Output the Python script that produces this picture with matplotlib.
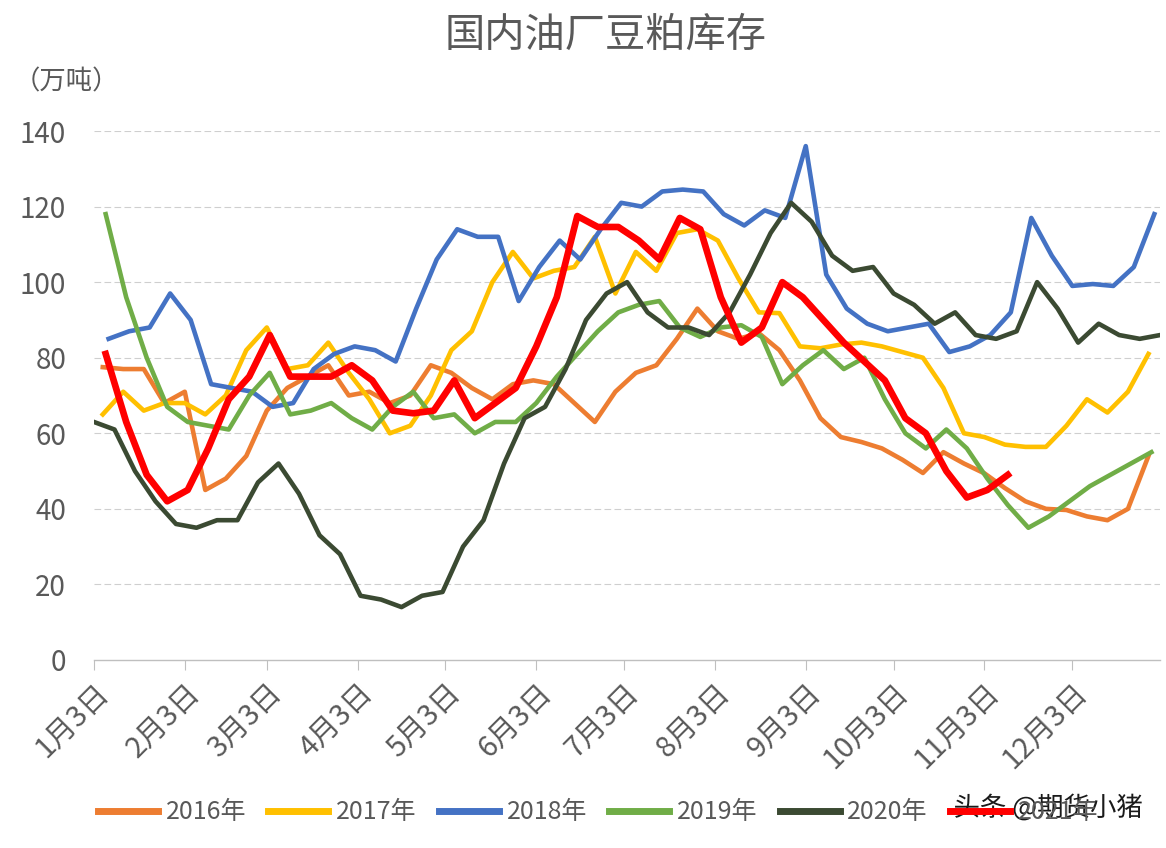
import numpy as np
import pandas as pd
import matplotlib
matplotlib.use('Agg')
import matplotlib.pyplot as plt
import matplotlib.patheffects as pe

plt.rcParams['font.family'] = ['Noto Sans CJK SC', 'DejaVu Sans']

# weekly soybean meal inventory (10k tons)
years = ['2016年', '2017年', '2018年', '2019年', '2020年', '2021年']
start_dates = ['2021-01-06', '2021-01-06', '2021-01-08', '2021-01-07', '2021-01-03', '2021-01-07']

v2016 = [77.5, 77, 77, 68, 71, 45, 48, 54, 66, 72, 75, 78, 70, 71, 68, 70, 78, 76, 72, 69,
         73, 74, 73, 68, 63, 71, 76, 78, 85, 93, 87, 85, 86.5, 82, 74, 64, 59, 57.7, 56, 53,
         49.5, 55, 52, 49.4, 45.5, 42, 40, 39.7, 38, 37, 40, 54]
v2017 = [65, 71, 66, 68, 68, 65, 70, 82, 88, 77, 78, 84, 76, 69, 60, 62, 70, 82, 87, 100,
         108, 101, 103, 104, 112, 97, 108, 103, 113, 114, 111, 101, 92, 91.8, 83, 82.5, 83.5, 84, 83, 81.5,
         80, 72, 60, 59, 57, 56.4, 56.4, 62, 69, 65.5, 71, 81]
v2018 = [85, 87, 88, 97, 90, 73, 72, 71, 67, 68, 77, 81, 83, 82, 79, 93, 106, 114, 112, 112,
         95, 104, 111, 106, 114, 121, 120, 124, 124.5, 124, 118, 115, 119, 117, 136, 102, 93, 89, 87, 88,
         89, 81.5, 83, 86, 92, 117, 107, 99, 99.5, 99, 104, 118]
v2019 = [118, 96, 80, 67, 63, 62, 61, 70, 76, 65, 66, 68, 64, 61, 67, 71, 64, 65, 60, 63,
         63, 68, 75, 81, 87, 92, 94, 95, 88, 85.5, 88, 88.6, 85.5, 73, 78, 82, 77, 80, 69, 60,
         56, 61, 56, 48, 41, 35, 38, 42, 46, 49, 52, 55]
v2020 = [63, 61, 50, 42, 36, 35, 37, 37, 47, 52, 44, 33, 28, 17, 16, 14, 17, 18, 30, 37,
         52, 64, 67, 77, 90, 97, 100, 92, 88, 88, 86, 92, 102, 113, 121, 116, 107, 103, 104, 97,
         94, 89, 92, 86, 85, 87, 100, 93, 84, 89, 86, 85, 86]
v2021 = [81, 63, 49, 42, 45, 56, 69, 75, 86, 75, 75, 75, 78, 74, 66, 65.3, 66, 74, 64, 68,
         72, 83, 96, 117.5, 114.6, 114.6, 111, 106, 117, 114, 96, 84, 88, 100, 96, 90, 84, 79, 74, 64,
         60, 50, 43, 45, 49]
series = [v2016, v2017, v2018, v2019, v2020, v2021]

colors = ['#ED7D31', '#FFC000', '#4472C4', '#70AD47', '#3B4A32', '#FF0000']
widths = [3.3, 3.3, 3.3, 3.3, 3.3, 4.8]

tick_dates = pd.to_datetime([f'2021-{m:02d}-03' for m in range(1, 13)])
tick_labels = [f'{m}月3日' for m in range(1, 13)]

fig = plt.figure(figsize=(11.66, 8.48), dpi=100, facecolor='white')
ax = fig.add_axes([0.0806, 0.2217, 0.9144, 0.6238])

for name, vals, start, c, w in zip(years, series, start_dates, colors, widths):
    dates = pd.date_range(start, periods=len(vals), freq='7D')
    ax.plot(dates, vals, color=c, lw=w, label=name, solid_joinstyle='round')

ax.set_ylim(0, 140)
ax.set_yticks(range(0, 141, 20))
ax.set_xlim(pd.Timestamp('2021-01-03'), pd.Timestamp('2022-01-02'))
ax.set_xticks(tick_dates)
ax.set_xticklabels(tick_labels, rotation=45, ha='right', rotation_mode='anchor')

for y in range(20, 141, 20):
    ax.axhline(y, color='#CFCFCF', lw=0.8, ls=(0, (6, 3)), zorder=0)

for s in ['top', 'right', 'left']:
    ax.spines[s].set_visible(False)
ax.spines['bottom'].set_color('#BFBFBF')
ax.spines['bottom'].set_linewidth(1.0)
ax.tick_params(axis='y', length=0, pad=20, labelsize=20, labelcolor='#595959')
ax.tick_params(axis='x', length=7, color='#BFBFBF', pad=6, labelsize=21, labelcolor='#595959')

fig.text(0.519, 0.958, '国内油厂豆粕库存', ha='center', va='center', fontsize=29, color='#595959')
fig.text(0.012, 0.903, '（万吨）', ha='left', va='center', fontsize=19, color='#595959')

leg = fig.legend(loc='center', bbox_to_anchor=(0.513, 0.042), ncol=6, frameon=False,
                 fontsize=18, handlelength=2.4, handletextpad=0.3, columnspacing=0.9)
for t in leg.get_texts():
    t.set_color('#595959')
for h in leg.get_lines():
    h.set_linewidth(5)

fig.text(0.98, 0.047, '头条 @期货小猪', ha='right', va='center', fontsize=19, color='#1A1A1A',
         path_effects=[pe.withStroke(linewidth=5, foreground='white')])

fig.savefig('out.png', dpi=100, facecolor='white')
